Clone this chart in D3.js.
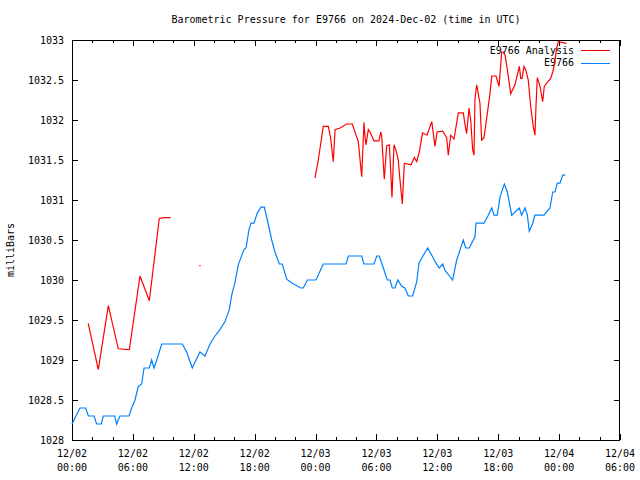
<!DOCTYPE html>
<html><head><meta charset="utf-8">
<script src="https://cdn.jsdelivr.net/npm/d3@7"></script>
<style>
body{margin:0;background:#fff;}
text{font-family:"DejaVu Sans Mono",monospace;font-size:10px;fill:#000;}
</style></head>
<body><svg id="c" width="640" height="480"></svg>
<script>
const title = "Barometric Pressure for E9766 on 2024-Dec-02 (time in UTC)";
const yLabel = "milliBars";
const seriesNames = ["E9766 Analysis", "E9766"];
const yTicks = [1028, 1028.5, 1029, 1029.5, 1030, 1030.5, 1031, 1031.5, 1032, 1032.5, 1033];
const startUTC = Date.UTC(2024, 11, 2, 0);
const endUTC = Date.UTC(2024, 11, 4, 6);

// Observations: hours since 12/02 00:00 UTC
const obsHours = [0.0,0.79,1.35,1.61,2.17,2.43,2.89,3.08,4.21,4.4,4.73,5.62,5.88,6.21,6.53,6.87,7.1,7.62,7.85,8.08,8.35,8.84,10.87,11.3,11.85,12.61,13.1,13.6,14.09,14.58,15.08,15.5,15.74,16.06,16.39,16.62,16.95,17.15,17.44,17.64,17.93,18.26,18.62,18.95,19.25,19.68,20.0,20.43,20.72,21.16,21.58,21.97,22.54,22.79,23.2,24.04,24.76,27.0,27.23,28.55,28.77,29.76,30.03,30.28,30.68,31.07,31.34,31.56,31.83,32.1,32.49,32.81,33.14,33.57,33.97,34.19,34.62,35.05,35.45,35.87,36.19,36.53,36.76,37.2,37.5,37.91,38.56,38.8,39.15,39.71,39.81,40.6,41.02,41.36,41.58,41.91,42.18,42.6,42.9,43.33,44.08,44.31,44.64,44.87,45.06,45.4,45.62,46.51,47.1,47.37,47.6,47.82,48.09,48.35,48.61];
const obsValues = [1028.2,1028.4,1028.4,1028.3,1028.3,1028.2,1028.2,1028.3,1028.3,1028.2,1028.3,1028.3,1028.4,1028.5,1028.67,1028.7,1028.9,1028.9,1029.0,1028.9,1029.0,1029.2,1029.2,1029.1,1028.9,1029.1,1029.05,1029.2,1029.3,1029.38,1029.48,1029.63,1029.81,1029.97,1030.19,1030.27,1030.38,1030.4,1030.63,1030.71,1030.71,1030.84,1030.91,1030.91,1030.75,1030.5,1030.35,1030.2,1030.2,1030.01,1029.97,1029.94,1029.9,1029.9,1030.0,1030.0,1030.2,1030.2,1030.3,1030.3,1030.2,1030.2,1030.3,1030.3,1030.15,1030.0,1030.0,1029.9,1029.9,1030.0,1029.92,1029.9,1029.8,1029.8,1029.98,1030.21,1030.31,1030.4,1030.31,1030.21,1030.15,1030.2,1030.12,1030.05,1030.0,1030.25,1030.5,1030.4,1030.4,1030.54,1030.71,1030.71,1030.81,1030.9,1030.81,1030.81,1031.04,1031.2,1031.1,1030.81,1030.9,1030.81,1030.9,1030.81,1030.61,1030.71,1030.81,1030.81,1030.9,1031.1,1031.1,1031.21,1031.21,1031.31,1031.31];

// Analysis: hours since 12/02 00:00 UTC (null = gap)
const anaHours = [1.61,2.59,3.58,4.56,5.65,6.7,7.62,8.6,9.07,9.66,11.0,12.61,14.0,23.95,24.27,24.76,25.26,25.49,25.69,25.75,25.92,26.41,27.07,27.62,28.21,28.48,28.55,28.77,28.87,28.97,29.2,29.37,29.76,30.25,30.42,30.52,30.62,30.77,31.01,31.27,31.41,31.53,31.73,31.93,32.15,32.32,32.55,32.75,33.41,33.73,33.97,34.22,34.54,34.98,35.45,35.77,35.97,36.53,36.92,37.08,37.32,37.64,38.07,38.56,38.73,38.89,39.12,39.29,39.48,39.61,39.71,39.88,40.2,40.37,40.6,41.19,41.36,41.78,42.08,42.34,42.5,42.67,42.9,43.23,43.65,44.08,44.22,44.35,44.54,44.73,44.96,45.2,45.45,45.62,45.72,45.85,46.12,46.38,46.54,46.83,47.17,47.37,47.53,47.76,47.92,48.25,48.67];
const anaValues = [1029.45,1028.88,1029.68,1029.14,1029.13,1030.05,1029.74,1030.77,1030.78,1030.78,null,1030.18,null,1031.28,1031.5,1031.92,1031.92,1031.77,1031.54,1031.48,1031.88,1031.9,1031.95,1031.95,1031.73,1031.38,1031.29,1031.97,1031.8,1031.69,1031.88,1031.85,1031.74,1031.74,1031.85,1031.8,1031.58,1031.26,1031.68,1031.69,1031.35,1031.03,1031.69,1031.62,1031.5,1031.25,1030.95,1031.46,1031.44,1031.53,1031.48,1031.6,1031.84,1031.81,1031.98,1031.67,1031.85,1031.86,1031.78,1031.56,1031.81,1031.76,1032.09,1032.09,1031.94,1031.83,1032.15,1032.0,1031.63,1031.56,1032.26,1032.44,1032.21,1031.75,1031.78,1032.33,1032.55,1032.55,1032.42,1032.85,1032.85,1032.81,1032.63,1032.33,1032.44,1032.67,1032.52,1032.52,1032.67,1032.62,1032.5,1032.17,1031.92,1031.81,1032.17,1032.53,1032.42,1032.23,1032.42,1032.47,1032.52,1032.6,1032.69,1032.9,1032.98,1032.97,1032.96];

const colors = ["#ff0000", "#0080ff"];

const svg = d3.select("#c");
const L = 72, R = 620, T = 40, B = 440;
const x = d3.scaleUtc().domain([new Date(startUTC), new Date(endUTC)]).range([L, R]);
const y = d3.scaleLinear().domain([1028, 1033]).range([B, T]);
const toDate = h => new Date(startUTC + h * 3600e3);

const majorTicks = d3.utcHour.every(6).range(new Date(startUTC), new Date(endUTC + 1));
const minorTicks = d3.utcHour.every(2).range(new Date(startUTC), new Date(endUTC + 1)).filter(d => d.getUTCHours() % 6 !== 0);

const g = svg.append("g").attr("shape-rendering", "crispEdges");

const fmtD = d3.utcFormat("%m/%d"), fmtT = d3.utcFormat("%H:%M");
g.append("g").attr("transform", `translate(0,${B})`)
  .call(d3.axisBottom(x).tickValues(majorTicks).tickSizeInner(-6).tickSizeOuter(0).tickFormat(""))
  .select(".domain").remove();
g.append("g").attr("transform", `translate(0,${B})`)
  .call(d3.axisBottom(x).tickValues(minorTicks).tickSizeInner(-3).tickSizeOuter(0).tickFormat(""))
  .select(".domain").remove();
g.append("g").attr("transform", `translate(0,${T})`)
  .call(d3.axisTop(x).tickValues(majorTicks).tickSizeInner(-6).tickSizeOuter(0).tickFormat(""))
  .select(".domain").remove();
g.append("g").attr("transform", `translate(0,${T})`)
  .call(d3.axisTop(x).tickValues(minorTicks).tickSizeInner(-3).tickSizeOuter(0).tickFormat(""))
  .select(".domain").remove();
g.append("g").attr("transform", `translate(${L},0)`)
  .call(d3.axisLeft(y).tickValues(yTicks).tickSizeInner(-6).tickSizeOuter(0).tickFormat(""))
  .select(".domain").remove();
g.append("g").attr("transform", `translate(${R},0)`)
  .call(d3.axisRight(y).tickValues(yTicks).tickSizeInner(-6).tickSizeOuter(0).tickFormat(""))
  .select(".domain").remove();
g.selectAll(".tick line").attr("stroke", "#000");

svg.append("g").selectAll("text").data(yTicks).join("text")
  .attr("x", L - 8).attr("y", d => y(d)).attr("dy", "0.35em")
  .attr("text-anchor", "end").text(d => String(d));
const xl = svg.append("g").selectAll("g").data(majorTicks).join("g")
  .attr("transform", d => `translate(${x(d)},0)`);
xl.append("text").attr("y", 457).attr("text-anchor", "middle").text(d => fmtD(d));
xl.append("text").attr("y", 471).attr("text-anchor", "middle").text(d => fmtT(d));

svg.append("text").attr("x", (L + R) / 2).attr("y", 23).attr("text-anchor", "middle").text(title);
svg.append("text").attr("transform", `translate(14,${(T + B) / 2 + 10}) rotate(-90)`)
  .attr("text-anchor", "middle").text(yLabel);

seriesNames.forEach((name, i) => {
  const ly = 50 + i * 12.5;
  svg.append("text").attr("x", 574).attr("y", ly).attr("dy", "0.35em").attr("text-anchor", "end").text(name);
  svg.append("line").attr("x1", 581).attr("x2", 610).attr("y1", Math.round(ly) + 0.5).attr("y2", Math.round(ly) + 0.5)
    .attr("stroke", colors[i]).attr("stroke-width", 1).attr("shape-rendering", "crispEdges");
});

svg.append("rect").attr("x", L + 0.5).attr("y", T + 0.5).attr("width", R - L - 1).attr("height", B - T)
  .attr("fill", "none").attr("stroke", "#000").attr("shape-rendering", "crispEdges");

const line = d3.line().defined(d => d[1] !== null).x(d => x(toDate(d[0]))).y(d => y(d[1]));
const anaData = anaHours.map((h, i) => [h, anaValues[i]]);
const obsData = obsHours.map((h, i) => [h, obsValues[i]]);
svg.append("path").datum(anaData).attr("d", line).attr("fill", "none")
  .attr("stroke", colors[0]).attr("stroke-width", 1.2).attr("stroke-linecap", "square");
svg.append("path").datum(obsData).attr("d", line).attr("fill", "none")
  .attr("stroke", colors[1]).attr("stroke-width", 1.2);
</script></body></html>
